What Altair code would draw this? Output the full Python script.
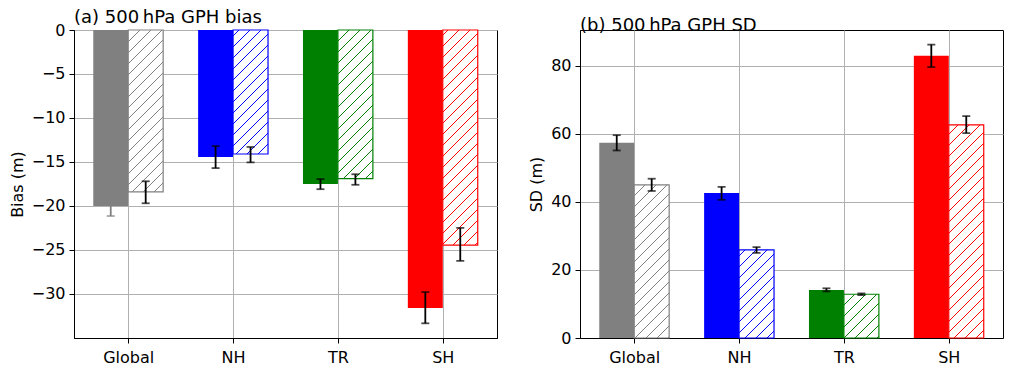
import altair as alt
import pandas as pd
import numpy as np

regions = ["Global", "NH", "TR", "SH"]
colors = ["#808080", "#0000ff", "#008000", "#ff0000"]

# (a) bias
bias_solid = [-20.0, -14.45, -17.5, -31.6]
bias_solid_lo = [-21.15, -15.7, -18.1, -33.35]
bias_solid_hi = [-18.85, -13.2, -16.95, -29.8]
bias_hatch = [-18.4, -14.1, -16.9, -24.45]
bias_hatch_lo = [-19.7, -15.05, -17.6, -26.25]
bias_hatch_hi = [-17.2, -13.3, -16.4, -22.5]
bias_ecolor = ["#808080", "black", "black", "black"]
bias_ticks = [-30, -25, -20, -15, -10, -5, 0]

# (b) SD
sd_solid = [57.4, 42.6, 14.1, 82.9]
sd_solid_lo = [55.1, 40.6, 13.7, 79.6]
sd_solid_hi = [59.6, 44.4, 14.6, 86.2]
sd_hatch = [45.0, 25.9, 12.85, 62.6]
sd_hatch_lo = [43.2, 25.0, 12.6, 60.2]
sd_hatch_hi = [46.8, 26.7, 13.1, 65.2]
sd_ecolor = ["black", "black", "black", "black"]
sd_ticks = [0, 20, 40, 60, 80]

W, H = 423, 308
XDOM = [-0.517, 3.517]
BARW = 1 / 3
HATCH_SPACING = 11
FONT = "DejaVu Sans"


def hatch_segments(values, ydom):
    px = W / (XDOM[1] - XDOM[0])
    py = H / (ydom[1] - ydom[0])
    rows = []
    for i, v in enumerate(values):
        x0, x1 = i, i + BARW
        ya, yb = min(0, v), max(0, v)
        u0, u1 = (x0 - XDOM[0]) * px, (x1 - XDOM[0]) * px
        w0, w1 = (ya - ydom[0]) * py, (yb - ydom[0]) * py
        c = np.floor((u0 - w1) / HATCH_SPACING) * HATCH_SPACING
        while c <= u1 - w0:
            ua = max(u0, w0 + c)
            ub = min(u1, w1 + c)
            if ub - ua > 0.3:
                rows.append({
                    "hx": ua / px + XDOM[0], "hy": (ua - c) / py + ydom[0],
                    "hx2": ub / px + XDOM[0], "hy2": (ub - c) / py + ydom[0],
                    "color": colors[i],
                })
            c += HATCH_SPACING
    return pd.DataFrame(rows)


def panel(solid, slo, shi, hatch, hlo, hhi, ecolor, ydom, yticks, ytitle, title):
    df = pd.DataFrame({
        "region": regions, "idx": list(range(len(regions))), "color": colors,
        "solid": solid, "slo": slo, "shi": shi,
        "hatch": hatch, "hlo": hlo, "hhi": hhi, "ecolor": ecolor, "zero": 0.0,
    })
    xscale = alt.Scale(domain=XDOM, nice=False, zero=False)
    yscale = alt.Scale(domain=ydom, nice=False, zero=False)
    label_expr = "[" + ",".join("'%s'" % r for r in regions) + "][datum.value]"
    xaxis = alt.Axis(values=list(range(len(regions))), labelExpr=label_expr, title="",
                     grid=True, labelPadding=6)
    yaxis = alt.Axis(values=yticks, title=ytitle, grid=True, titlePadding=6,
                     labelExpr="replace(datum.label, '-', '\u2212')")

    def X(f):
        return alt.X(f, type="quantitative", scale=xscale, axis=xaxis)

    def Y(f):
        return alt.Y(f, type="quantitative", scale=yscale, axis=yaxis)

    base = alt.Chart(df).transform_calculate(
        xs0="datum.idx - %f" % BARW, xs1="datum.idx",
        xh0="datum.idx", xh1="datum.idx + %f" % BARW,
        exs="datum.idx - %f" % (BARW / 2), exh="datum.idx + %f" % (BARW / 2),
    )
    solid_bars = base.mark_bar().encode(
        x=X("xs0:Q"), x2="xs1:Q", y=Y("solid:Q"), y2="zero:Q",
        color=alt.Color("color:N", scale=None),
    )
    hatch_fill = base.mark_bar(fill="white").encode(
        x=X("xh0:Q"), x2="xh1:Q", y=Y("hatch:Q"), y2="zero:Q",
    )
    hdf = hatch_segments(hatch, ydom)
    hatch_lines = alt.Chart(hdf).mark_rule(strokeWidth=1).encode(
        x=X("hx:Q"), x2="hx2:Q", y=Y("hy:Q"), y2="hy2:Q",
        color=alt.Color("color:N", scale=None),
    )
    hatch_edge = base.mark_bar(fillOpacity=0, strokeWidth=1.2).encode(
        x=X("xh0:Q"), x2="xh1:Q", y=Y("hatch:Q"), y2="zero:Q",
        stroke=alt.Stroke("color:N", scale=None),
    )
    err_s = base.mark_rule(strokeWidth=1.8).encode(
        x=X("exs:Q"), y=Y("slo:Q"), y2="shi:Q", color=alt.Color("ecolor:N", scale=None))
    cap_s_lo = base.mark_tick(orient="horizontal", size=8, thickness=1.8).encode(
        x=X("exs:Q"), y=Y("slo:Q"), color=alt.Color("ecolor:N", scale=None))
    cap_s_hi = base.mark_tick(orient="horizontal", size=8, thickness=1.8).encode(
        x=X("exs:Q"), y=Y("shi:Q"), color=alt.Color("ecolor:N", scale=None))
    err_h = base.mark_rule(strokeWidth=1.8, color="black").encode(
        x=X("exh:Q"), y=Y("hlo:Q"), y2="hhi:Q")
    cap_h_lo = base.mark_tick(orient="horizontal", size=8, thickness=1.8, color="black").encode(
        x=X("exh:Q"), y=Y("hlo:Q"))
    cap_h_hi = base.mark_tick(orient="horizontal", size=8, thickness=1.8, color="black").encode(
        x=X("exh:Q"), y=Y("hhi:Q"))
    return alt.layer(
        solid_bars, hatch_fill, hatch_lines, hatch_edge,
        err_s, cap_s_lo, cap_s_hi, err_h, cap_h_lo, cap_h_hi,
    ).properties(
        width=W, height=H,
        title=alt.TitleParams(title, anchor="start", frame="group", offset=-5,
                              font=FONT, fontSize=18, fontWeight="normal", color="black"),
    )


left = panel(bias_solid, bias_solid_lo, bias_solid_hi, bias_hatch, bias_hatch_lo,
             bias_hatch_hi, bias_ecolor, [-35.02, 0], bias_ticks, "Bias (m)",
             "(a) 500\u2009hPa GPH bias")
right = panel(sd_solid, sd_solid_lo, sd_solid_hi, sd_hatch, sd_hatch_lo,
              sd_hatch_hi, sd_ecolor, [0, 90.5], sd_ticks, "SD (m)",
              "(b) 500\u2009hPa GPH SD")

chart = alt.hconcat(left, right, spacing=30).properties(
    padding={"left": 0, "top": 0, "right": 0, "bottom": 0}
).configure_view(
    stroke="black", strokeWidth=1
).configure_axis(
    labelFont=FONT, labelFontSize=16, labelColor="black",
    titleFont=FONT, titleFontSize=16, titleFontWeight="normal", titleColor="black",
    tickColor="black", tickSize=5, tickWidth=1, labelPadding=4,
    domainColor="black", domainWidth=1,
    gridColor="#b0b0b0", gridWidth=1,
)

chart.save("out.html", embed_options={"renderer": "svg", "actions": False})
